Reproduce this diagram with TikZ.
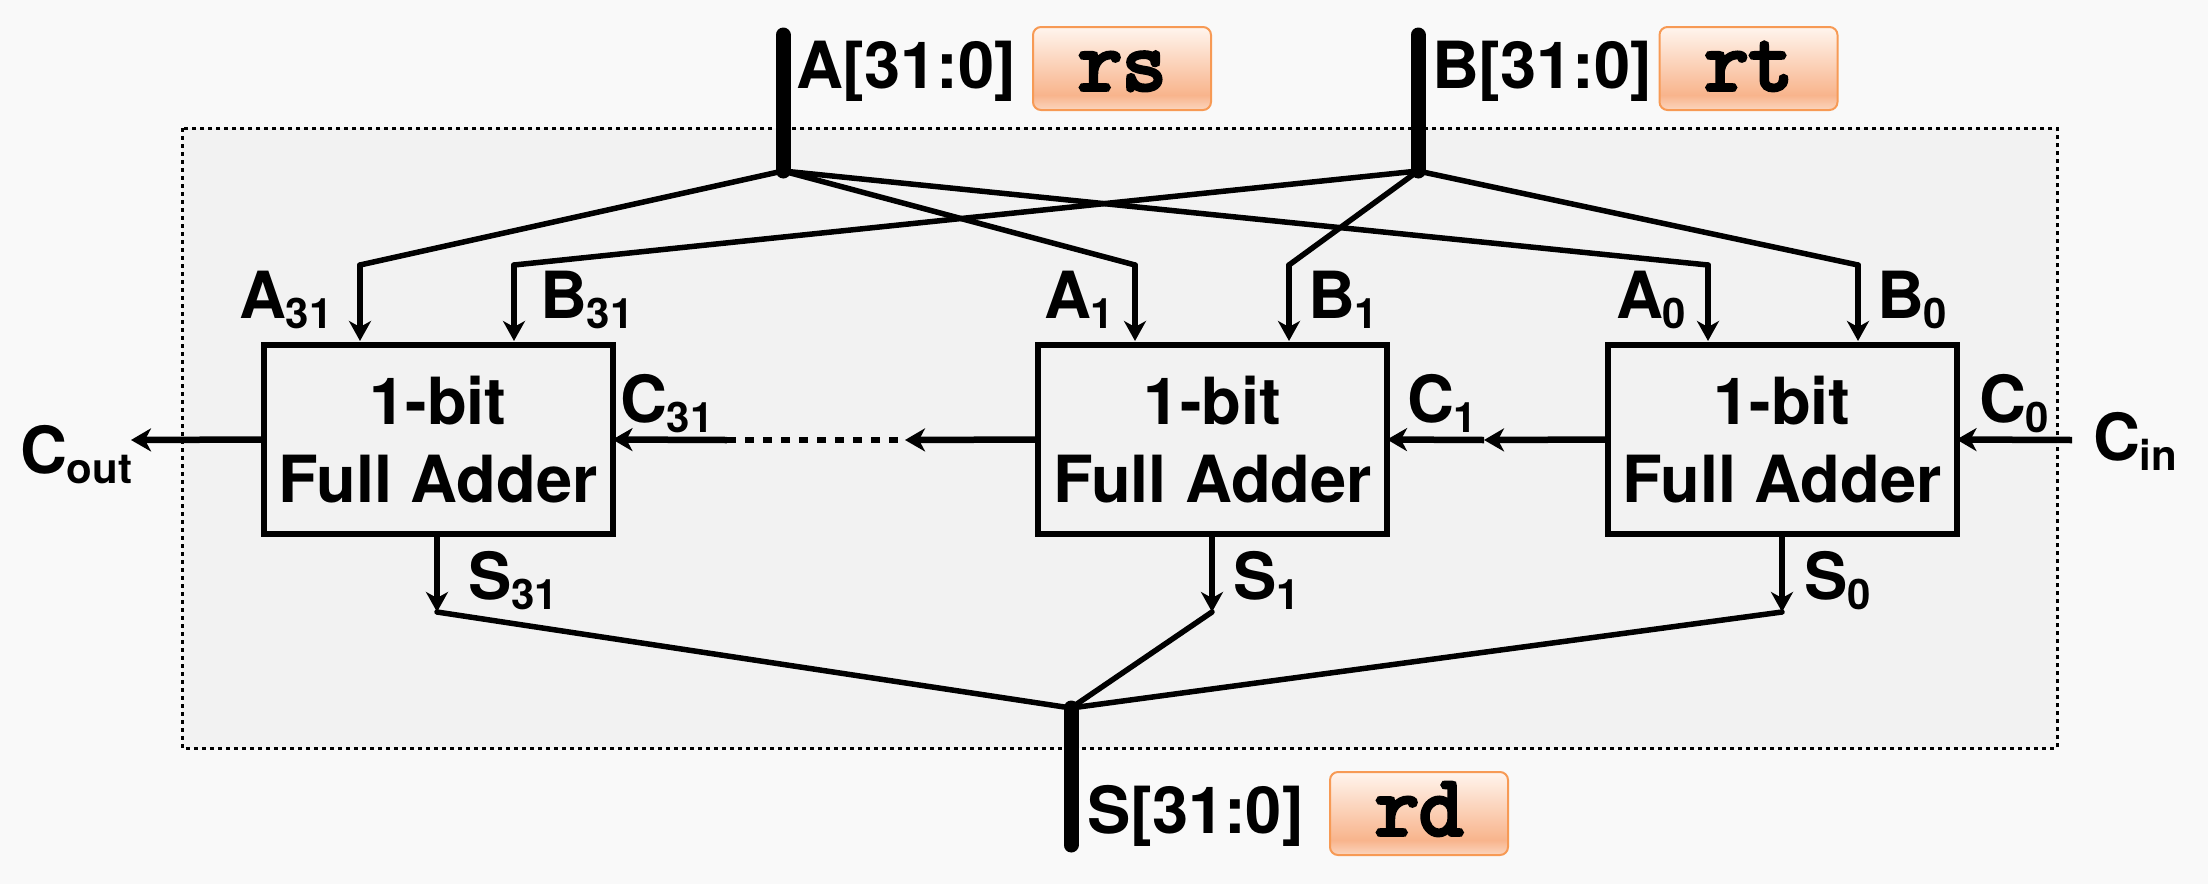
\documentclass[tikz,border=0pt]{standalone}
\usepackage{fontspec}
\setmainfont{TeX Gyre Heros}
\newfontfamily\codefont{Latin Modern Mono}[FakeBold=4.5]
\usetikzlibrary{arrows.meta}
\definecolor{pagebg}{HTML}{F9F9F9}
\definecolor{panelbg}{HTML}{F2F2F2}
\definecolor{tagtop}{HTML}{FFF5EE}
\definecolor{tagmid}{HTML}{F8B48C}
\definecolor{tagbot}{HTML}{FBD5BE}
\definecolor{tagedge}{HTML}{F79A55}
\pgfdeclareverticalshading{tagshade}{100bp}{color(0bp)=(tagbot);color(25bp)=(tagbot);color(34bp)=(tagmid);color(75bp)=(tagtop);color(100bp)=(tagtop)}
\newcommand{\sbs}[1]{\raisebox{-10pt}{\fontsize{42}{42}\selectfont #1}}
\tikzset{
  lbl/.style={anchor=base west,inner sep=0pt,outer sep=0pt,font=\fontsize{65}{70}\selectfont\bfseries},
  adder/.style={draw=black,line width=6pt,outer sep=0pt,minimum width=349pt,minimum height=189pt,inner sep=0pt,align=center,font=\fontsize{65}{78}\selectfont\bfseries},
  tag/.style={draw=tagedge,line width=2pt,rounded corners=8pt,shading=tagshade,minimum width=178pt,minimum height=83pt,inner sep=0pt},
  tagtext/.style={inner sep=0pt,outer sep=0pt,font=\fontsize{86}{86}\selectfont\codefont},
  bus/.style={line width=15pt,line cap=round},
  wire/.style={line width=5.5pt,line join=round,line cap=round},
  arr/.style={wire,-{Stealth[length=20pt,width=22pt,inset=6pt]}},
  carry/.style={line width=6.5pt,-{Stealth[length=20pt,width=23pt,inset=6pt]}}
}
\begin{document}
\begin{tikzpicture}[x=1pt,y=-1pt]
\useasboundingbox (0,0) rectangle (2208,884);
\fill[pagebg] (0,0) rectangle (2208,884);
\draw[fill=panelbg,line width=3pt,dash pattern=on 4pt off 4pt] (182,128) rectangle (2057,748);

% buses
\coordinate (atop) at (783,35); \coordinate (abot) at (783,171);
\coordinate (btop) at (1418,35); \coordinate (bbot) at (1418,171);
\coordinate (stop) at (1071,708); \coordinate (sbot) at (1071,845);

% adders
\node[adder] (fa31) at (438,439.5) {1-bit\\Full Adder};
\node[adder] (fa1) at (1212.5,439.5) {1-bit\\Full Adder};
\node[adder] (fa0) at (1782,439.5) {1-bit\\Full Adder};

% knees and inputs
\coordinate (ka31) at (360,265); \coordinate (ia31) at (360,341);
\coordinate (kb31) at (514,265); \coordinate (ib31) at (514,341);
\coordinate (ka1) at (1135,265); \coordinate (ia1) at (1135,341);
\coordinate (kb1) at (1289,265); \coordinate (ib1) at (1289,341);
\coordinate (ka0) at (1708,265); \coordinate (ia0) at (1708,341);
\coordinate (kb0) at (1858,265); \coordinate (ib0) at (1858,341);

\draw[wire] (abot) -- (ka31); \draw[arr] (ka31) -- (ia31);
\draw[wire] (abot) -- (ka1);  \draw[arr] (ka1) -- (ia1);
\draw[wire] (abot) -- (ka0);  \draw[arr] (ka0) -- (ia0);
\draw[wire] (bbot) -- (kb31); \draw[arr] (kb31) -- (ib31);
\draw[wire] (bbot) -- (kb1);  \draw[arr] (kb1) -- (ib1);
\draw[wire] (bbot) -- (kb0);  \draw[arr] (kb0) -- (ib0);

% sums
\coordinate (s31) at (437,612); \coordinate (s1) at (1212,612); \coordinate (s0) at (1782,612);
\draw[arr,line cap=butt] (s31 |- fa31.south) -- (s31);
\draw[arr,line cap=butt] (s1 |- fa1.south) -- (s1);
\draw[arr,line cap=butt] (s0 |- fa0.south) -- (s0);
\draw[wire] (s31) -- (stop);
\draw[wire] (s1) -- (stop);
\draw[wire] (s0) -- (stop);

\draw[bus] (atop) -- (abot);
\draw[bus] (btop) -- (bbot);
\draw[bus] (stop) -- (sbot);

% carries
\coordinate (cout) at (131,440);
\coordinate (cin) at (2072,440);
\coordinate (dotr) at (905,440);
\coordinate (dotl) at (727,440);
\coordinate (cmid) at (1484,440);
\draw[carry] (fa31.west) -- (cout);
\draw[carry] (dotl) -- (fa31.east);
\draw[line width=6.5pt,dash pattern=on 9pt off 9pt] (dotl) -- (dotr);
\draw[carry] (fa1.west) -- (dotr);
\draw[carry] (fa0.west) -- (cmid);
\draw[carry] (cmid) -- (fa1.east);
\draw[carry] (cin) -- (fa0.east);

% tags
\node[tag] (rs) at (1122,68.5) {};
\node[tag] (rt) at (1748.5,68.5) {};
\node[tag] (rd) at (1419,813.5) {};
\node[tagtext,anchor=base] at (1122,90) {rs};
\node[tagtext,anchor=base] at (1748.5,90) {rt};
\node[tagtext,anchor=base] at (1419,835) {rd};

% labels
\node[lbl] (la) at (796,88) {A[31:0]};
\node[lbl] (lb) at (1432,88) {B[31:0]};
\node[lbl] (ls) at (1087,833) {S[31:0]};
\node[lbl] (la31) at (239,318) {A\sbs{31}};
\node[lbl] (lb31) at (540,318) {B\sbs{31}};
\node[lbl] (la1) at (1044,318) {A\sbs{1}};
\node[lbl] (lb1) at (1308,318) {B\sbs{1}};
\node[lbl] (la0) at (1616,318) {A\sbs{0}};
\node[lbl] (lb0) at (1877,318) {B\sbs{0}};
\node[lbl] (lc31) at (620,422) {C\sbs{31}};
\node[lbl] (lc1) at (1407,422) {C\sbs{1}};
\node[lbl] (lc0) at (1979,422) {C\sbs{0}};
\node[lbl] (lcout) at (20,473) {C\sbs{out}};
\node[lbl] (lcin) at (2093,460) {C\sbs{in}};
\node[lbl] (ls31) at (468,599) {S\sbs{31}};
\node[lbl] (ls1) at (1233,599) {S\sbs{1}};
\node[lbl] (ls0) at (1804,599) {S\sbs{0}};
\end{tikzpicture}
\end{document}
